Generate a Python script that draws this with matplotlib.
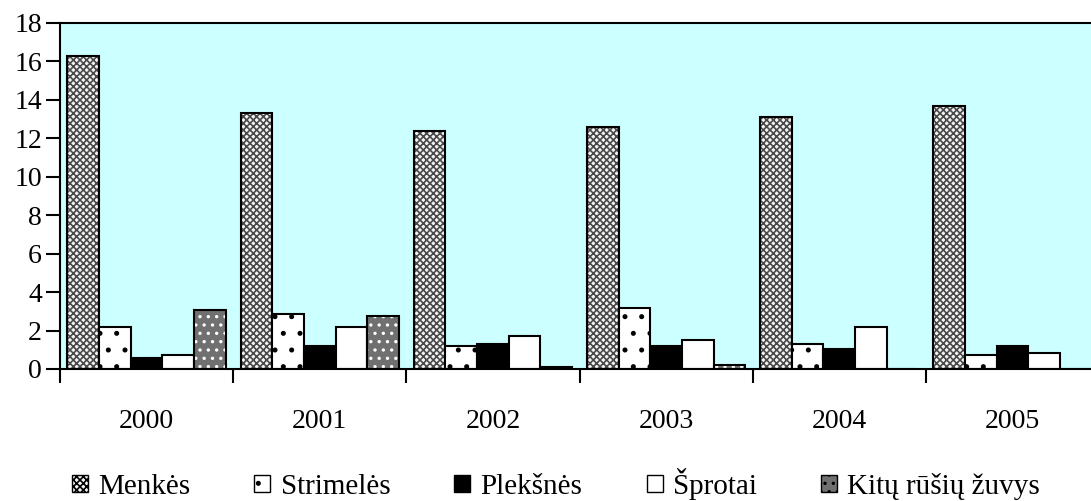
import matplotlib.pyplot as plt
import matplotlib.patches as mpatches
import numpy as np

years = ["2000", "2001", "2002", "2003", "2004", "2005"]
series_names = ["Menkės", "Strimelės", "Plekšnės", "Šprotai", "Kitų rūšių žuvys"]
menkes = [16.3, 13.3, 12.4, 12.6, 13.1, 13.7]
strimeles = [2.2, 2.85, 1.2, 3.15, 1.3, 0.75]
pleksnes = [0.55, 1.2, 1.3, 1.2, 1.05, 1.2]
sprotai = [0.75, 2.2, 1.7, 1.5, 2.2, 0.85]
kitu = [3.05, 2.75, 0.12, 0.2, 0.0, 0.0]

values = [menkes, strimeles, pleksnes, sprotai, kitu]
# (facecolor, hatch, hatch colour)
styles = [
    ("#f4f4f4", "xxxxx", "#4a4a4a"),
    ("white", ".", "black"),
    ("black", None, "black"),
    ("white", None, "black"),
    ("#707070", "..", "white"),
]

plt.rcParams["font.family"] = ["Liberation Serif", "DejaVu Serif"]
plt.rcParams["hatch.linewidth"] = 1.2

fig = plt.figure(figsize=(10.91, 5.01), dpi=100)
ax = fig.add_axes([60 / 1091, 132 / 501, 1039 / 1091, 346 / 501])
ax.set_facecolor("#CCFFFF")

x = np.arange(len(years))
w = 0.183
for k, (vals, (fc, hatch, hc)) in enumerate(zip(values, styles)):
    pos = x + (k - 2) * w
    if hatch:
        ax.bar(pos, vals, w, color=fc, edgecolor=hc, hatch=hatch, linewidth=0)
    else:
        ax.bar(pos, vals, w, color=fc, linewidth=0)
    ax.bar(pos, vals, w, fill=False, edgecolor="black", linewidth=1.5)

ax.set_xlim(-0.5, 5.5)
ax.set_ylim(0, 18)
ax.set_yticks(np.arange(0, 19, 2))
ax.set_xticks(x)
ax.set_xticklabels(years)
ax.set_xticks(np.arange(-0.5, 6, 1), minor=True)
ax.tick_params(axis="x", which="major", length=0, pad=29, labelsize=20)
ax.tick_params(axis="x", which="minor", length=10, width=1.5, direction="out")
ax.tick_params(axis="y", length=10, width=1.5, direction="out", labelsize=20, pad=3)
for sp in ax.spines.values():
    sp.set_linewidth(1.5)

handles = []
for name, (fc, hatch, hc) in zip(series_names, styles):
    handles.append(mpatches.Patch(facecolor=fc, edgecolor="black", hatch=hatch,
                                  linewidth=1, label=name))
fig.legend(handles=handles, loc="center", bbox_to_anchor=(556 / 1091, 17 / 501), ncol=5,
           frameon=False, fontsize=21, handlelength=0.55, handleheight=0.55,
           handletextpad=0.35, columnspacing=2.2, borderpad=0)

fig.savefig("out.png", dpi=100)
